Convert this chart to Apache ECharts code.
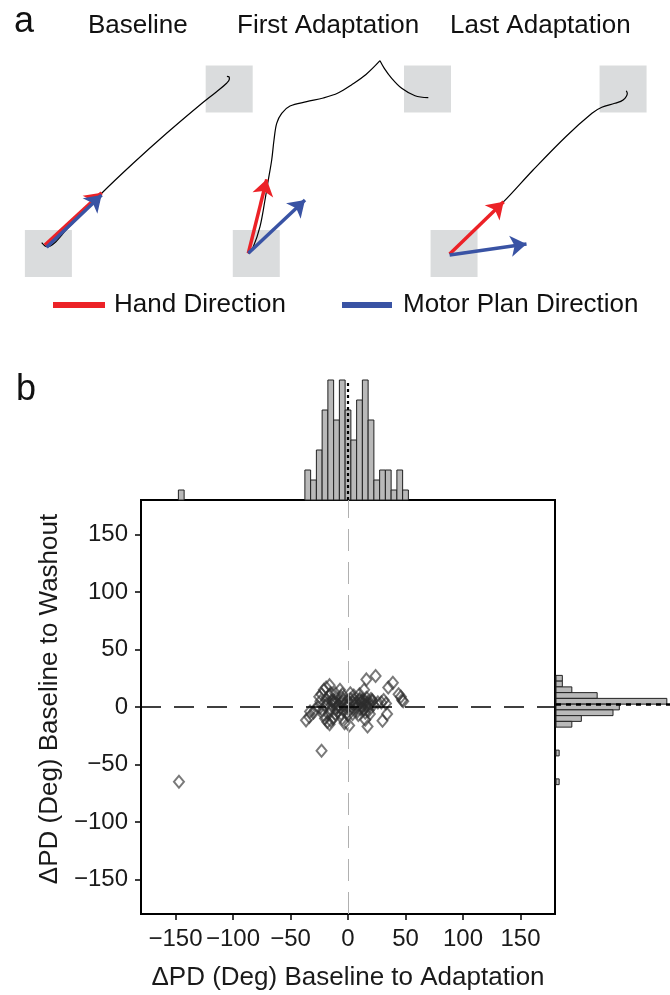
<!DOCTYPE html>
<html>
<head>
<meta charset="utf-8">
<script src="https://cdn.jsdelivr.net/npm/echarts@6/dist/echarts.min.js"></script>
<style>html,body{margin:0;padding:0;background:#fff}#c{width:670px;height:995px}</style>
</head>
<body>
<div id="c"></div>
<script>
// ---------- Panel b data ----------
const deltaAdaptation = [
  -147,
  -36.5, -33.6, -33,
  -30, -28.5,
  -26, -24, -23, -25, -23,
  -21, -19, -20, -18, -22, -19, -21, -18, -20,
  -16, -15, -16, -14, -13, -15, -17, -14, -13, -16, -15, -14,
  -11, -9, -10, -8, -11, -9, -12, -10,
  -7, -5, -4, -6, -3, -5, -6, -4, -7, -3, -5, -6,
  1, 2, 0, -1, 1, 2, 0, -1, 2,
  5, 4, 6, 5, 7, 4,
  10, 11, 9, 12, 8, 10, 12, 11, 9, 10,
  16, 14, 17, 15, 13, 16, 14, 17, 15, 16, 13, 15,
  19, 21, 18, 20, 22, 19, 21, 18,
  24, 26,
  30, 29, 31,
  35, 34, 33,
  39,
  46, 44, 47,
  48
];
const deltaWashout = [
  -65,
  -11.6, -8.7, -4,
  -5, -2,
  0, 5, -38, 9, 11,
  15, 17, -10, 3, -3, 7, -7, -13, 1,
  19, 12, -15, 5, 6, -2, -6, 2, -10, 10, -12, 6,
  12, -4, 4, 2, -6, 0, 3, -1,
  15, 5, -3, 9, 2, -10, -6, 6, 0, -14, 11, 4,
  -16, 12, 5, -5, 3, 7, -7, 1, -2,
  7, -6, 3, 10, -1, 4,
  6, -2, 2, 5, -4, 11, 0, 4, -7, 7,
  24, 15, -17, 5, 3, 8, -2, 4, -5, 1, 6, -11,
  3, 6, -3, 7, 2, -6, 5, 0,
  27, 4,
  -12, 4, 6,
  17, -6, 3,
  21,
  9, 11, 6,
  5
];
const topBinCenters = [-145, -35, -30, -25, -20, -15, -10, -5, 0, 5, 10, 15, 20, 25, 30, 35, 40, 45, 50];
const topCounts     = [1, 3, 2, 5, 9, 12, 8, 12, 9, 6, 10, 12, 8, 2, 3, 3, 1, 3, 1];
const rightBinCenters = [25, 20, 15, 10, 5, 0, -5, -10, -15, -40, -65];
const rightCounts     = [2, 2, 5, 13, 35, 20, 18, 8, 5, 1, 1];
const binWidth = 5;
const histMeanAdaptation = 0;
const histMeanWashout = 2.1;
const tickValues = [-150, -100, -50, 0, 50, 100, 150];

// ---------- Panel a data (local units, origin at start target) ----------
const panelTitles = ['Baseline', 'First Adaptation', 'Last Adaptation'];
const startTargets = [[0, 0], [0, 0], [0, 0]];
const endTargets = [[180.8, 164.5], [171.2, 164.5], [172.2, 164.5]];
const baselineTraj = [[-6.7, 10.8], [-1.7, 6.8], [20, 26], [51.5, 58.5], [84.8, 90.2], [118.2, 120.2],
  [151.5, 148.5], [168.2, 161.8], [178.2, 170.2], [181, 174.5], [180.5, 176.8], [178.5, 177.2]];
const firstTrajUp = [[-8, 0.2], [-3, 6.8], [3.7, 26.8], [8.7, 53.5], [12, 73.5], [15.4, 93.5], [17.7, 113.5],
  [20.4, 130.2], [25.4, 140.2], [33.7, 147.5], [50.4, 151.8], [67, 155.5], [81.7, 160.5], [95.7, 169],
  [109.7, 179], [123.7, 192.8]];
const firstTrajDown = [[123.7, 192.8], [128, 185.2], [135.4, 175.2], [145.4, 165.2], [158.7, 157.8], [172, 155.8]];
const lastTraj = [[-4.5, -0.5], [50.5, 51.8], [80.5, 83.5], [113.8, 116.8], [140.5, 140.2], [150.5, 146.2],
  [163.8, 150.2], [172.2, 153.5], [176.5, 160.2], [175.5, 162.8]];
const handArrows = [[[-3.5, 8.5], [53.2, 60.8]], [[-8, 0.2], [10.4, 74.2]], [[-4.5, -0.5], [50.5, 51.8]]];
const planArrows = [[[-1.8, 6.2], [53.2, 58.5]], [[-8, 0.2], [48.7, 53.5]], [[-4.5, -1.5], [73.8, 9.5]]];

// ---------- styling / layout ----------
const RED = '#ec2227', BLUE = '#3953a4';
const FONT = '"Liberation Sans", Arial, Helvetica, sans-serif';
const panelCentersX = [48.4, 256.3, 454.8];
const panelCenterY = 253.5;
const trajectories = [[baselineTraj], [firstTrajUp, firstTrajDown], [lastTraj]];

const chart = echarts.init(document.getElementById('c'), null, {renderer: 'canvas'});
const fmt = v => (v < 0 ? '\u2212' + Math.abs(v) : String(v));

const grids = [
  {left: 141, top: 500, width: 414, height: 414, show: true, borderColor: '#000', borderWidth: 2, backgroundColor: 'transparent'},
  {left: 141, top: 380, width: 414, height: 120},
  {left: 556, top: 500, width: 120, height: 414}
];
const xAxes = [
  {gridIndex: 0, type: 'value', min: -180, max: 180, position: 'bottom',
    axisLine: {show: false, onZero: false}, splitLine: {show: false},
    axisTick: {show: true, customValues: tickValues, length: 6, lineStyle: {color: '#000', width: 1.5}},
    axisLabel: {customValues: tickValues, formatter: fmt, fontSize: 24, color: '#1a1a1a', margin: 13, fontFamily: FONT},
    name: '\u0394PD (Deg) Baseline to Adaptation', nameLocation: 'middle', nameGap: 51,
    nameTextStyle: {fontSize: 26, color: '#1a1a1a', fontFamily: FONT}},
  {gridIndex: 1, type: 'value', min: -180, max: 180, show: false},
  {gridIndex: 2, type: 'value', min: 0, max: 36, show: false}
];
const yAxes = [
  {gridIndex: 0, type: 'value', min: -180, max: 180, position: 'left',
    axisLine: {show: false, onZero: false}, splitLine: {show: false},
    axisTick: {show: true, customValues: tickValues, length: 6, lineStyle: {color: '#000', width: 1.5}},
    axisLabel: {customValues: tickValues, formatter: fmt, fontSize: 24, color: '#1a1a1a', margin: 13, fontFamily: FONT},
    name: '\u0394PD (Deg) Baseline to Washout', nameLocation: 'middle', nameGap: 78,
    nameTextStyle: {fontSize: 26, color: '#1a1a1a', fontFamily: FONT, padding: [0, 0, 0, 16]}},
  {gridIndex: 1, type: 'value', min: 0, max: 12, show: false},
  {gridIndex: 2, type: 'value', min: -180, max: 180, show: false}
];

const series = [];
// scatter
series.push({
  type: 'scatter', xAxisIndex: 0, yAxisIndex: 0,
  data: deltaAdaptation.map((x, i) => [x, deltaWashout[i]]),
  symbol: 'diamond', symbolSize: [10, 12],
  itemStyle: {color: 'rgba(0,0,0,0)', borderColor: 'rgba(45,45,45,0.8)', borderWidth: 2},
  markLine: {
    silent: true, symbol: ['none', 'none'], label: {show: false}, animation: false, z: 10,
    data: [
      {yAxis: 0, lineStyle: {color: '#000', type: [20, 13], width: 1.5}},
      {xAxis: 0, lineStyle: {color: '#b0b0b0', type: [22, 11], width: 1}}
    ]
  }
});
// top histogram
series.push({
  type: 'custom', xAxisIndex: 1, yAxisIndex: 1,
  data: topBinCenters.map((c, i) => [c, topCounts[i]]),
  encode: {x: 0, y: 1},
  renderItem: (params, api) => {
    const c = api.value(0), n = api.value(1);
    const p0 = api.coord([c - binWidth / 2, n]);
    const p1 = api.coord([c + binWidth / 2, 0]);
    return {type: 'rect', shape: {x: p0[0], y: p0[1], width: p1[0] - p0[0], height: p1[1] - p0[1]},
      style: {fill: '#b9b9b9', stroke: '#222', lineWidth: 1}};
  }
});
series.push({
  type: 'line', xAxisIndex: 1, yAxisIndex: 1, showSymbol: false, symbol: 'none', z: 5,
  data: [[histMeanAdaptation, 0], [histMeanAdaptation, Math.max(...topCounts)]],
  lineStyle: {color: '#000', width: 2.2, type: [3, 3]}
});
// right histogram
series.push({
  type: 'custom', xAxisIndex: 2, yAxisIndex: 2,
  data: rightBinCenters.map((c, i) => [c, rightCounts[i]]),
  encode: {x: 1, y: 0},
  renderItem: (params, api) => {
    const c = api.value(0), n = api.value(1);
    const p0 = api.coord([0, c + binWidth / 2]);
    const p1 = api.coord([n, c - binWidth / 2]);
    return {type: 'rect', shape: {x: p0[0], y: p0[1], width: p1[0] - p0[0], height: p1[1] - p0[1]},
      style: {fill: '#b9b9b9', stroke: '#222', lineWidth: 1}};
  }
});
series.push({
  type: 'line', xAxisIndex: 2, yAxisIndex: 2, showSymbol: false, symbol: 'none', z: 5,
  data: [[0, histMeanWashout], [36, histMeanWashout]],
  lineStyle: {color: '#000', width: 2.5, type: [5, 5]}
});

// panel a
for (let k = 0; k < 3; k++) {
  const gi = 3 + k;
  grids.push({left: panelCentersX[k] - 40, top: panelCenterY - 210, width: 260, height: 260});
  xAxes.push({gridIndex: gi, type: 'value', min: -40, max: 220, show: false});
  yAxes.push({gridIndex: gi, type: 'value', min: -50, max: 210, show: false});
  series.push({
    type: 'scatter', xAxisIndex: gi, yAxisIndex: gi, clip: false, silent: true, z: 1,
    data: [startTargets[k], endTargets[k]], symbol: 'rect', symbolSize: 47,
    itemStyle: {color: '#d1d3d4'}
  });
  trajectories[k].forEach(tr => {
    series.push({
      type: 'line', xAxisIndex: gi, yAxisIndex: gi, clip: false, smooth: 0.35, showSymbol: false, symbol: 'none', z: 2,
      data: tr, lineStyle: {color: '#000', width: 1.2}
    });
  });
  series.push({
    name: 'Hand Direction', type: 'lines', coordinateSystem: 'cartesian2d', xAxisIndex: gi, yAxisIndex: gi, z: 3,
    clip: false, symbol: ['none', 'arrow'], symbolSize: [13, 16],
    data: [{coords: handArrows[k]}],
    lineStyle: {color: RED, width: 3.5, opacity: 1}, itemStyle: {color: RED}
  });
  series.push({
    name: 'Motor Plan Direction', type: 'lines', coordinateSystem: 'cartesian2d', xAxisIndex: gi, yAxisIndex: gi, z: 4,
    clip: false, symbol: ['none', 'arrow'], symbolSize: [13, 16],
    data: [{coords: planArrows[k]}],
    lineStyle: {color: BLUE, width: 3.5, opacity: 1}, itemStyle: {color: BLUE}
  });
}

const titleStyle = {fontSize: 26, fontWeight: 'normal', color: '#111', fontFamily: FONT};
const option = {
  animation: false,
  textStyle: {fontFamily: FONT},
  title: [
    {text: 'a', left: 14, top: 4, padding: 0, textStyle: {fontSize: 36, fontWeight: 'normal', color: '#111', fontFamily: FONT}},
    {text: panelTitles[0], left: 88, top: 13, padding: 0, textStyle: titleStyle},
    {text: panelTitles[1], left: 237, top: 13, padding: 0, textStyle: titleStyle},
    {text: panelTitles[2], left: 450, top: 13, padding: 0, textStyle: titleStyle},
    {text: 'b', left: 16, top: 372, padding: 0, textStyle: {fontSize: 36, fontWeight: 'normal', color: '#111', fontFamily: FONT}}
  ],
  legend: [
    {data: [{name: 'Hand Direction', itemStyle: {color: RED}}], left: 53, top: 292, padding: 0, icon: 'rect',
      itemWidth: 50, itemHeight: 4, selectedMode: false,
      textStyle: {fontSize: 26, color: '#111', fontFamily: FONT, padding: [0, 0, 0, 5]}},
    {data: [{name: 'Motor Plan Direction', itemStyle: {color: BLUE}}], left: 342, top: 292, padding: 0, icon: 'rect',
      itemWidth: 48, itemHeight: 4, selectedMode: false,
      textStyle: {fontSize: 26, color: '#111', fontFamily: FONT, padding: [0, 0, 0, 7]}}
  ],
  grid: grids,
  xAxis: xAxes,
  yAxis: yAxes,
  series: series
};
chart.setOption(option);
</script>
</body>
</html>
